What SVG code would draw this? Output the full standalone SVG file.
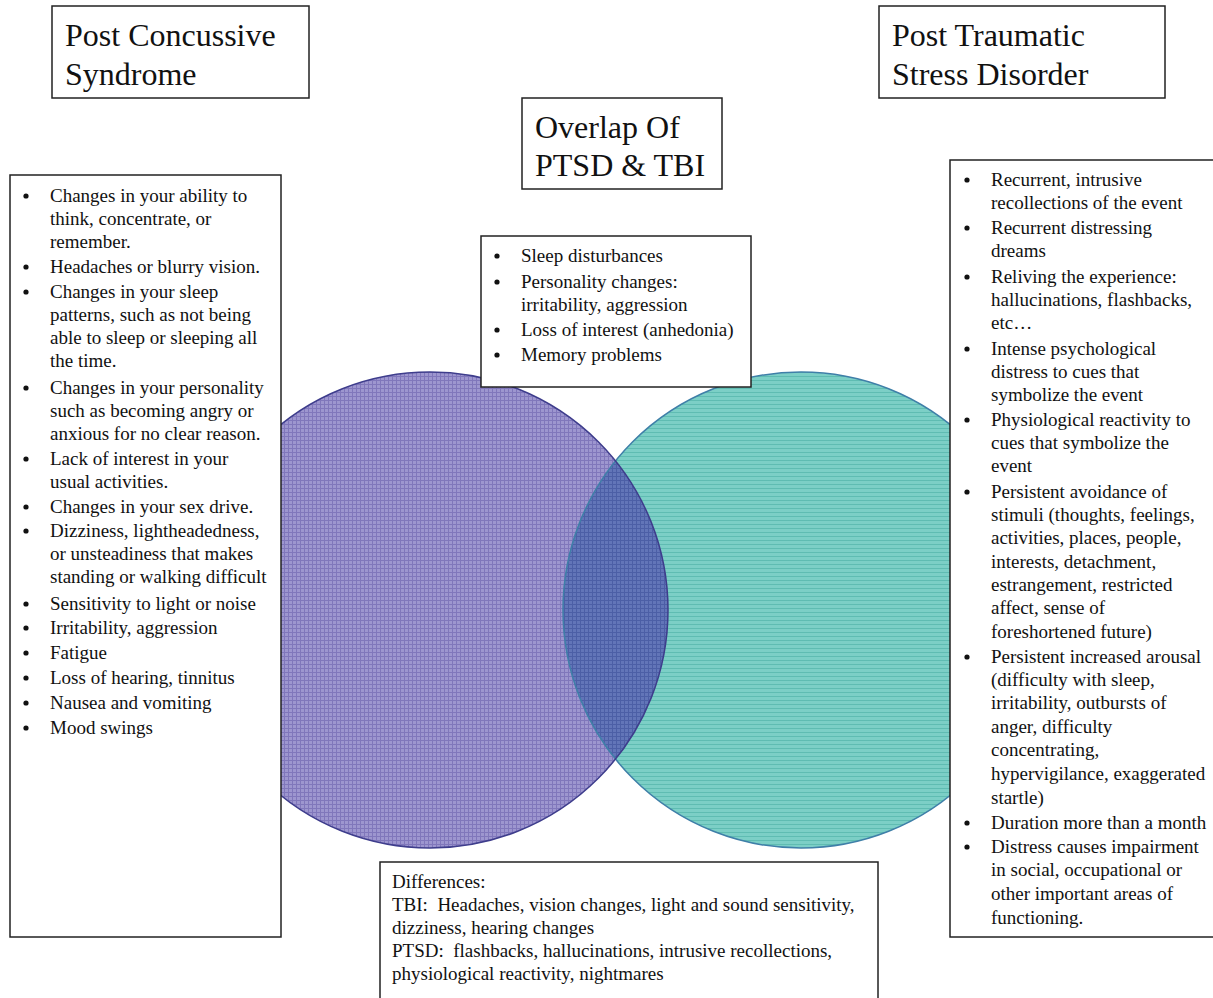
<svg xmlns="http://www.w3.org/2000/svg" width="1213" height="998" viewBox="0 0 1213 998">
<style>
.box{fill:#fff;stroke:#222;stroke-width:1.5}
.title{font-family:"Liberation Serif","Times New Roman",serif;font-size:32px;fill:#111}
.t{font-family:"Liberation Serif","Times New Roman",serif;font-size:19px;fill:#111;white-space:pre}
.b{fill:#111}
</style>
<defs>
<pattern id="pPurple" patternUnits="userSpaceOnUse" width="4" height="4">
<rect width="4" height="4" fill="#9d96cf"/>
<path d="M0 0.5H4M0.5 0V4" stroke="#8077bb" stroke-width="1"/>
</pattern>
<pattern id="pTeal" patternUnits="userSpaceOnUse" width="4" height="4">
<rect width="4" height="4" fill="#7ccfc6"/>
<path d="M0 0.5H4" stroke="#5fbcb2" stroke-width="1"/>
</pattern>
<pattern id="pOver" patternUnits="userSpaceOnUse" width="4" height="4">
<rect width="4" height="4" fill="#6275b8"/>
<path d="M0 0.5H4M0.5 0V4" stroke="#4c5fa6" stroke-width="1"/>
</pattern>
<clipPath id="clipTeal"><circle cx="801" cy="610" r="238"/></clipPath>
</defs>

<g id="venn">
<circle cx="801" cy="610" r="238" fill="url(#pTeal)"/>
<circle cx="430" cy="610" r="238" fill="url(#pPurple)"/>
<circle cx="430" cy="610" r="238" fill="url(#pOver)" clip-path="url(#clipTeal)"/>
<circle cx="801" cy="610" r="238" fill="none" stroke="#3f7fa8" stroke-width="1.5"/>
<circle cx="430" cy="610" r="238" fill="none" stroke="#3e3d8c" stroke-width="1.5"/>
</g>

<g id="title-pcs">
<rect class="box" x="52" y="6" width="257" height="92"/>
<text class="title" x="65" y="46">Post Concussive</text>
<text class="title" x="65" y="85">Syndrome</text>
</g>

<g id="title-ptsd">
<rect class="box" x="879" y="6" width="286" height="92"/>
<text class="title" x="892" y="46">Post Traumatic</text>
<text class="title" x="892" y="85">Stress Disorder</text>
</g>

<g id="title-overlap">
<rect class="box" x="522" y="98" width="200" height="91"/>
<text class="title" x="535" y="138">Overlap Of</text>
<text class="title" x="535" y="176">PTSD &amp; TBI</text>
</g>

<g id="list-pcs">
<rect class="box" x="10" y="175" width="271" height="762"/>
<g class="b">
<circle cx="26" cy="196" r="2.6"/><circle cx="26" cy="267" r="2.6"/><circle cx="26" cy="292" r="2.6"/>
<circle cx="26" cy="388" r="2.6"/><circle cx="26" cy="459" r="2.6"/><circle cx="26" cy="507" r="2.6"/>
<circle cx="26" cy="531" r="2.6"/><circle cx="26" cy="604" r="2.6"/><circle cx="26" cy="628" r="2.6"/>
<circle cx="26" cy="653" r="2.6"/><circle cx="26" cy="678" r="2.6"/><circle cx="26" cy="703" r="2.6"/>
<circle cx="26" cy="728" r="2.6"/>
</g>
<text class="t" x="50" y="202">Changes in your ability to</text>
<text class="t" x="50" y="225">think, concentrate, or</text>
<text class="t" x="50" y="248">remember.</text>
<text class="t" x="50" y="273">Headaches or blurry vision.</text>
<text class="t" x="50" y="298">Changes in your sleep</text>
<text class="t" x="50" y="321">patterns, such as not being</text>
<text class="t" x="50" y="344">able to sleep or sleeping all</text>
<text class="t" x="50" y="367">the time.</text>
<text class="t" x="50" y="394">Changes in your personality</text>
<text class="t" x="50" y="417">such as becoming angry or</text>
<text class="t" x="50" y="440">anxious for no clear reason.</text>
<text class="t" x="50" y="465">Lack of interest in your</text>
<text class="t" x="50" y="488">usual activities.</text>
<text class="t" x="50" y="513">Changes in your sex drive.</text>
<text class="t" x="50" y="537">Dizziness, lightheadedness,</text>
<text class="t" x="50" y="560">or unsteadiness that makes</text>
<text class="t" x="50" y="583">standing or walking difficult</text>
<text class="t" x="50" y="610">Sensitivity to light or noise</text>
<text class="t" x="50" y="634">Irritability, aggression</text>
<text class="t" x="50" y="659">Fatigue</text>
<text class="t" x="50" y="684">Loss of hearing, tinnitus</text>
<text class="t" x="50" y="709">Nausea and vomiting</text>
<text class="t" x="50" y="734">Mood swings</text>
</g>

<g id="list-overlap">
<rect class="box" x="481" y="236" width="270" height="151"/>
<g class="b">
<circle cx="497" cy="256" r="2.6"/><circle cx="497" cy="282" r="2.6"/>
<circle cx="497" cy="330" r="2.6"/><circle cx="497" cy="355" r="2.6"/>
</g>
<text class="t" x="521" y="262">Sleep disturbances</text>
<text class="t" x="521" y="288">Personality changes:</text>
<text class="t" x="521" y="311">irritability, aggression</text>
<text class="t" x="521" y="336">Loss of interest (anhedonia)</text>
<text class="t" x="521" y="361">Memory problems</text>
</g>

<g id="list-ptsd">
<rect class="box" x="950" y="160" width="270" height="777"/>
<g class="b">
<circle cx="967" cy="180" r="2.6"/><circle cx="967" cy="228" r="2.6"/><circle cx="967" cy="277" r="2.6"/>
<circle cx="967" cy="349" r="2.6"/><circle cx="967" cy="420" r="2.6"/><circle cx="967" cy="492" r="2.6"/>
<circle cx="967" cy="657" r="2.6"/><circle cx="967" cy="823" r="2.6"/><circle cx="967" cy="847" r="2.6"/>
</g>
<text class="t" x="991" y="186">Recurrent, intrusive</text>
<text class="t" x="991" y="209">recollections of the event</text>
<text class="t" x="991" y="234">Recurrent distressing</text>
<text class="t" x="991" y="257">dreams</text>
<text class="t" x="991" y="283">Reliving the experience:</text>
<text class="t" x="991" y="306">hallucinations, flashbacks,</text>
<text class="t" x="991" y="329">etc…</text>
<text class="t" x="991" y="355">Intense psychological</text>
<text class="t" x="991" y="378">distress to cues that</text>
<text class="t" x="991" y="401">symbolize the event</text>
<text class="t" x="991" y="426">Physiological reactivity to</text>
<text class="t" x="991" y="449">cues that symbolize the</text>
<text class="t" x="991" y="472">event</text>
<text class="t" x="991" y="498">Persistent avoidance of</text>
<text class="t" x="991" y="521">stimuli (thoughts, feelings,</text>
<text class="t" x="991" y="544">activities, places, people,</text>
<text class="t" x="991" y="568">interests, detachment,</text>
<text class="t" x="991" y="591">estrangement, restricted</text>
<text class="t" x="991" y="614">affect, sense of</text>
<text class="t" x="991" y="638">foreshortened future)</text>
<text class="t" x="991" y="663">Persistent increased arousal</text>
<text class="t" x="991" y="686">(difficulty with sleep,</text>
<text class="t" x="991" y="709">irritability, outbursts of</text>
<text class="t" x="991" y="733">anger, difficulty</text>
<text class="t" x="991" y="756">concentrating,</text>
<text class="t" x="991" y="780">hypervigilance, exaggerated</text>
<text class="t" x="991" y="804">startle)</text>
<text class="t" x="991" y="829">Duration more than a month</text>
<text class="t" x="991" y="853">Distress causes impairment</text>
<text class="t" x="991" y="876">in social, occupational or</text>
<text class="t" x="991" y="900">other important areas of</text>
<text class="t" x="991" y="924">functioning.</text>
</g>

<g id="differences">
<rect class="box" x="380" y="862" width="498" height="140"/>
<text class="t" x="392" y="888">Differences:</text>
<text class="t" x="392" y="911">TBI:  Headaches, vision changes, light and sound sensitivity,</text>
<text class="t" x="392" y="934">dizziness, hearing changes</text>
<text class="t" x="392" y="957">PTSD:  flashbacks, hallucinations, intrusive recollections,</text>
<text class="t" x="392" y="980">physiological reactivity, nightmares</text>
</g>
</svg>
